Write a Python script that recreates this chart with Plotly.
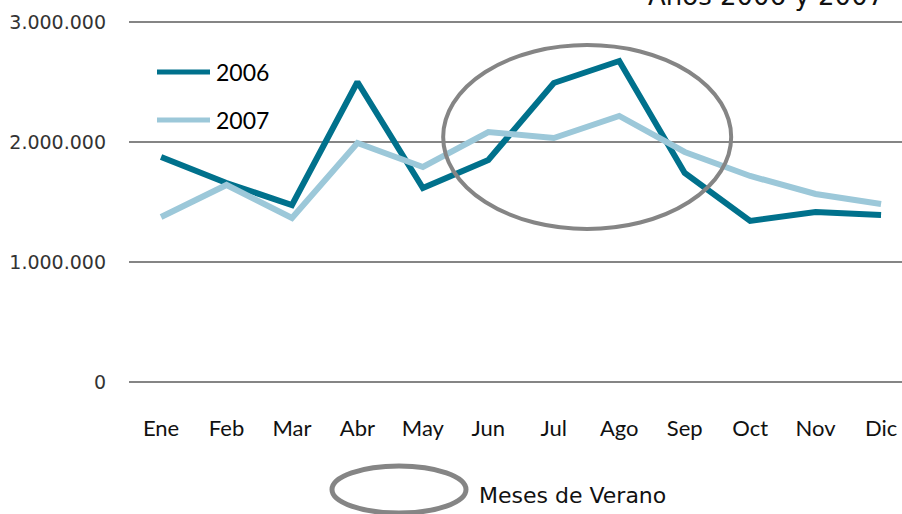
import plotly.graph_objects as go

months = ["Ene", "Feb", "Mar", "Abr", "May", "Jun", "Jul", "Ago", "Sep", "Oct", "Nov", "Dic"]
values_2006 = [1875000, 1658000, 1475000, 2500000, 1617000, 1850000, 2492000, 2675000, 1742000, 1342000, 1417000, 1392000]
values_2007 = [1375000, 1642000, 1367000, 1992000, 1792000, 2083000, 2033000, 2217000, 1917000, 1717000, 1567000, 1483000]
y_ticks = [0, 1000000, 2000000, 3000000]

c2006 = "#00718C"
c2007 = "#9CC8D9"
grey = "#858585"

fig = go.Figure()
fig.add_trace(go.Scatter(x=months, y=values_2006, mode="lines", name="2006",
                         line=dict(color=c2006, width=6), showlegend=False))
fig.add_trace(go.Scatter(x=months, y=values_2007, mode="lines", name="2007",
                         line=dict(color=c2007, width=6), showlegend=False))

W, H = 902, 514
L, T, B = 129, 19, 129
fig.update_layout(
    width=W, height=H,
    margin=dict(l=L, r=0, t=T, b=B, autoexpand=False),
    plot_bgcolor="white", paper_bgcolor="white",
    separators=",.",
    xaxis=dict(type="category", range=[-0.49, 11.32], showgrid=False, showline=False,
               zeroline=False, ticks="", ticklabelstandoff=28, automargin=False,
               tickfont=dict(family="Lato", size=22, color="#111")),
    yaxis=dict(range=[-25000, 3025000], tickvals=y_ticks, tickformat=",d",
               showgrid=True, gridcolor=grey, gridwidth=2, zeroline=False,
               showline=False, ticks="", ticklabelstandoff=22, automargin=False,
               tickfont=dict(family="DejaVu Sans", size=19, color="#333")),
)

# highlighted summer months
fig.add_shape(type="circle", xref="x", yref="y", x0=4.31, x1=8.71, y0=1275000, y1=2808000,
              line=dict(color=grey, width=4))

# manual legend (pixel positions converted to paper coordinates)
def px(xp):
    return (xp - L) / (W - L)

def py(yp):
    return (H - B - yp) / (H - T - B)

for ypix, col, lab in [(72, c2006, "2006"), (120, c2007, "2007")]:
    fig.add_shape(type="line", xref="paper", yref="paper", x0=px(157), x1=px(210), y0=py(ypix), y1=py(ypix),
                  line=dict(color=col, width=5))
    fig.add_annotation(xref="paper", yref="paper", x=px(214), y=py(ypix), text=lab, showarrow=False,
                       xanchor="left", yanchor="middle", font=dict(family="Lato", size=23, color="#000"))

fig.add_shape(type="circle", xref="paper", yref="paper", x0=px(332), x1=px(466), y0=py(513), y1=py(466),
              line=dict(color=grey, width=5))
fig.add_annotation(xref="paper", yref="paper", x=px(477), y=py(495), text="Meses de Verano", showarrow=False,
                   xanchor="left", yanchor="middle", font=dict(family="DejaVu Sans", size=22, color="#111"))

fig.add_annotation(xref="paper", yref="paper", x=px(886), y=py(13), text="Años 2006 y 2007", showarrow=False,
                   xanchor="right", yanchor="bottom", font=dict(family="DejaVu Sans", size=26, color="#111"))

fig.write_html("out.html", config={"displayModeBar": False},
               post_script="document.body.style.margin='0';document.body.style.overflow='hidden';")
